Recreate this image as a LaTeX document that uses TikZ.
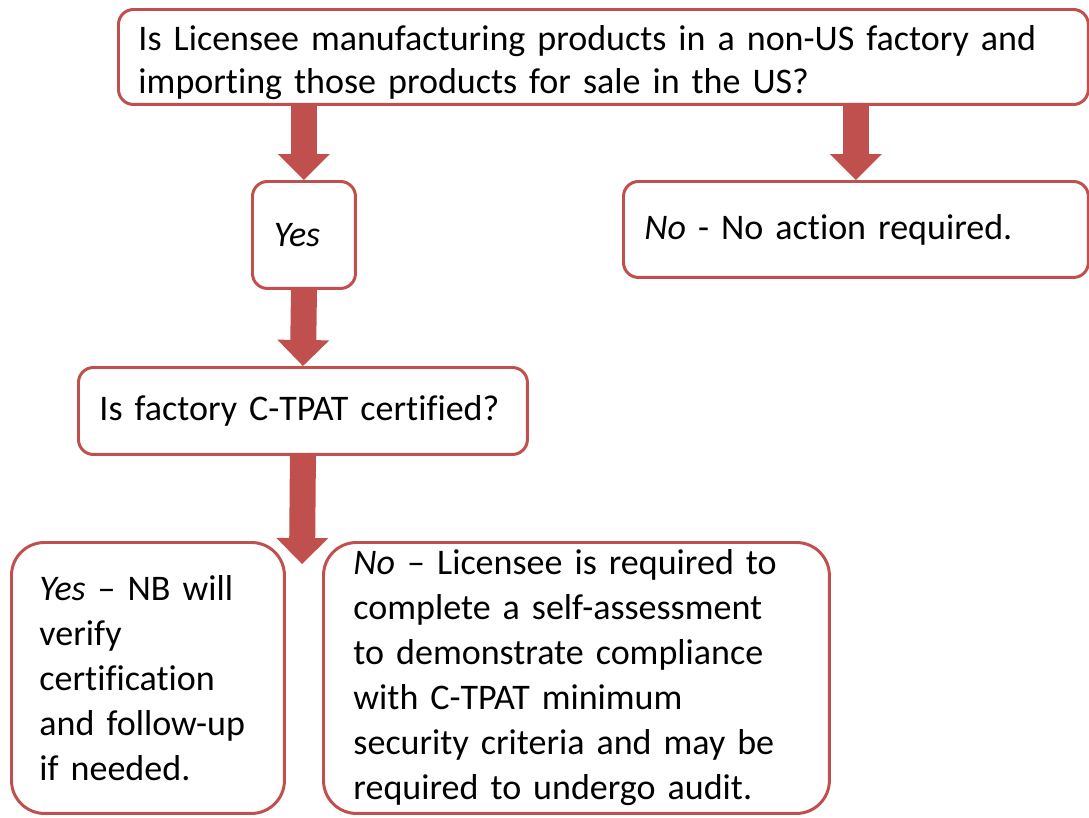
\documentclass[tikz,border=0pt]{standalone}
\usepackage{fontspec}
\setmainfont{Carlito}[Ligatures=NoCommon]
\usepackage{xcolor}
\usetikzlibrary{arrows.meta, positioning}
\definecolor{boxred}{RGB}{192,80,77}
\tikzset{
    box/.style={draw=boxred, line width=1.7pt, rounded corners=0.3cm, anchor=north west, align=left, inner xsep=0.42cm, inner ysep=0pt, font=\fontsize{20.5}{24.5}\selectfont},
    bigbox/.style={box, rounded corners=0.66cm, font=\fontsize{20.5}{25.6}\selectfont},
    blockarrow/.style={draw=boxred, line width=0.52cm, -{Triangle[width=1.04cm, length=0.52cm, line width=0pt]}}
}

\begin{document}
\begin{tikzpicture}[x=0.02cm, y=-0.02cm]
    \useasboundingbox (0,0) rectangle (1089,818);
    \node[box, minimum width=19.4cm, minimum height=1.9cm, text width=18.6cm, inner xsep=0.4cm] (import) at (117,8)
        {\rule{0pt}{0.72cm}Is Licensee manufacturing products in a non-US factory and\\importing those products for sale in the US?};
    \node[box, minimum width=2.06cm, minimum height=2.14cm, text width=1.2cm, inner xsep=0.43cm] (yes) at (251,180) {\textit{Yes}};
    \node[box, minimum width=9.3cm, minimum height=1.92cm, text width=8.46cm] (no) at (622,180) {\textit{No} - No action required.};
    \node[box, minimum width=8.98cm, minimum height=1.74cm, text width=8.14cm] (ctpat) at (77,366) {Is factory C-TPAT certified?};
    \node[bigbox, minimum width=5.46cm, minimum height=5.42cm, text width=4.34cm, inner xsep=0.56cm] (verify) at (10,541)
        {\textit{Yes} -- NB will\\verify\\certification\\and follow-up\\if needed.};
    \node[bigbox, minimum width=10.12cm, minimum height=5.42cm, text width=8.92cm, inner xsep=0.6cm] (assess) at (322,541)
        {\textit{No} -- Licensee is required to\\complete a self-assessment\\to demonstrate compliance\\with C-TPAT minimum\\security criteria and may be\\required to undergo audit.};
    \coordinate (split) at (302,564); % tip between the two answers
    \draw[blockarrow] (import.south -| yes.north) -- (yes.north);
    \draw[blockarrow] (import.south -| no.north) -- (no.north);
    \draw[blockarrow] (yes.south) -- (ctpat.north);
    \draw[blockarrow] (ctpat.south) -- (split);
\end{tikzpicture}
\end{document}
